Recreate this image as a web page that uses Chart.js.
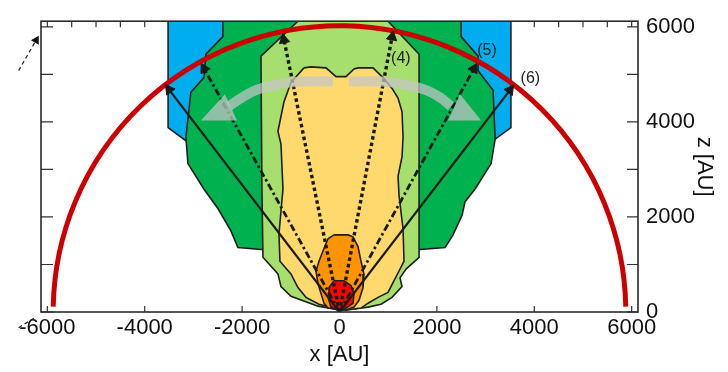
<!DOCTYPE html>
<html>
<head>
<meta charset="utf-8">
<script src="https://cdn.jsdelivr.net/npm/chart.js@4.4.1/dist/chart.umd.min.js"></script>
<style>
  html, body { margin: 0; padding: 0; background: #fff; }
</style>
</head>
<body>
<canvas id="chart" width="728" height="372"></canvas>
<script>
// axis ticks
const xTickValues = [-6000, -4000, -2000, 0, 2000, 4000, 6000];
const yTickValues = [0, 1000, 2000, 3000, 4000, 5000, 6000];

// contour outlines in AU, outermost first (x, z)
const blueX = [-3520, -3520, -3150, 3200, 3520, 3520];
const blueZ = [6120, 3880, 3600, 3640, 3880, 6120];

const greenX = [-2394, -2394, -2743, -2785, -3052, -3154, -3113, -2785, -2497, -2230, -2086, -1613,
                1654, 2168, 2332, 2517, 2579, 2785, 3113, 3196, 3154, 2846, 2846, 2497, 2497];
const greenZ = [6120, 5795, 5425, 4932, 4624, 3678, 3124, 2589, 2178, 1706, 1356, 1315,
                1315, 1356, 1623, 2034, 2322, 2589, 3124, 3637, 4665, 5076, 5384, 5795, 6120];

const lightGreenX = [-853, -1613, -1593, -1572, -1264, -1202, -997, -442, -113, 0,
                     134, 586, 853, 1079, 1284, 1243, 1367, 1634, 1634, 1634, 997];
const lightGreenZ = [6120, 5384, 2589, 1151, 801, 534, 329, 123, 62, 41,
                     41, 103, 164, 308, 534, 719, 904, 1151, 2589, 5425, 6120];

const yellowX = [-730, -586, -277, -72, 134, 298, 380, 688, 894, 1079, 1202, 1284, 1305, 1284,
                 1202, 1223, 1305, 1325, 1223, 1120, 997, 791, 586, 442, 134, -113, -421, -688,
                 -853, -997, -1223, -1243, -1161, -1202, -1264, -1141, -997];
const yellowZ = [5138, 5158, 5138, 4953, 4953, 5117, 5138, 5138, 4932, 4706, 4500, 4213, 3678, 3267,
                 2856, 2445, 1747, 1069, 863, 658, 411, 308, 185, 82, 41, 82, 164, 308,
                 514, 801, 1069, 1644, 2589, 3535, 3802, 4418, 4829];

const orangeX = [-113, 175, 277, 380, 442, 503, 483, 401, 298, 134, -236, -319, -380, -442, -483, -421, -319, -236];
const orangeZ = [1623, 1623, 1582, 1377, 1069, 801, 514, 247, 103, 41, 82, 185, 390, 596, 863, 1069, 1336, 1541];

const coreX = [-113, 92, 236, 298, 277, 134, 0, -175, -236, -216];
const coreZ = [658, 658, 555, 390, 185, 82, 20, 103, 308, 514];

// red circle
const circleRadius = 5880;
const circleEndZ = 110;

// arrows from the origin (tips)
const arrowEndX = [-3500, 3500, -2780, 2760, -1140, 1080];
const arrowEndZ = [4680, 4670, 5120, 5120, 5730, 5790];

const labelText = ['(4)', '(5)', '(6)'];
const labelX = [1260, 3030, 3920];
const labelZ = [5340, 5510, 4910];

// gray curved arrows
const grayLeftX = [-134, -791, -1305, -1716, -2024, -2271];
const grayLeftZ = [4850, 4850, 4780, 4670, 4500, 4330];
const grayRightX = [195, 853, 1367, 1778, 2086, 2291];
const grayRightZ = [4850, 4850, 4780, 4670, 4500, 4330];
const headLeftX = [-2846, -2353, -2106];
const headLeftZ = [4028, 4583, 4028];
const headRightX = [2908, 2476, 2230];
const headRightZ = [4028, 4583, 4028];

// small dashed arrows outside the frame
const outTopX = [-6590, -6230];
const outTopZ = [5080, 5720];
const outBotX = [-6590, -6260];
const outBotZ = [-330, -120];

const FONT = 'Liberation Sans, Arial, Helvetica, sans-serif';

function pts(xs, zs, close) {
    const p = xs.map((x, i) => ({ x: x, y: zs[i] }));
    if (close) p.push({ x: xs[0], y: zs[0] });
    return p;
}

function region(label, xs, zs, color, order) {
    return {
        label: label,
        data: pts(xs, zs, true),
        showLine: true,
        fill: 'shape',
        backgroundColor: color,
        borderColor: '#1e1e1e',
        borderWidth: 1.6,
        pointRadius: 0,
        order: order
    };
}

const datasets = [
    region('blue', blueX, blueZ, '#00AEEF', 20),
    region('green', greenX, greenZ, '#00B14F', 19),
    region('lightgreen', lightGreenX, lightGreenZ, '#A6DF6E', 18),
    region('yellow', yellowX, yellowZ, '#FFD96D', 17),
    region('orange', orangeX, orangeZ, '#FF9300', 16),
    region('core', coreX, coreZ, '#FF0000', 15)
];

const arrowDash = [[], [], [7, 3, 2.5, 3], [7, 3, 2.5, 3], [3.5, 3], [3.5, 3]];
const arrowWidth = [2.2, 2.2, 2.8, 2.8, 3.4, 3.4];
arrowEndX.forEach((ex, i) => {
    const ez = arrowEndZ[i];
    datasets.push({
        label: 'arrow' + i,
        data: [{ x: 0, y: 0 }, { x: ex, y: ez }],
        showLine: true,
        borderColor: '#1a1a1a',
        borderWidth: arrowWidth[i],
        borderDash: arrowDash[i],
        pointRadius: [0, 6],
        pointStyle: 'triangle',
        pointRotation: [0, Math.atan2(ex, ez) * 180 / Math.PI],
        pointBackgroundColor: '#1a1a1a',
        pointBorderColor: '#1a1a1a',
        pointBorderWidth: 1,
        order: 3
    });
});

const grayCol = 'rgba(198,198,198,0.72)';
[[grayLeftX, grayLeftZ], [grayRightX, grayRightZ]].forEach(([xs, zs]) => {
    datasets.push({
        data: pts(xs, zs, false),
        showLine: true,
        borderColor: grayCol,
        borderWidth: 10,
        borderCapStyle: 'butt',
        tension: 0.4,
        pointRadius: 0,
        order: 2
    });
});
[[headLeftX, headLeftZ], [headRightX, headRightZ]].forEach(([xs, zs]) => {
    datasets.push({
        data: pts(xs, zs, true),
        showLine: true,
        fill: 'shape',
        backgroundColor: grayCol,
        borderWidth: 0,
        pointRadius: 0,
        order: 2
    });
});

[[outTopX, outTopZ, 30], [outBotX, outBotZ, 180]].forEach(([xs, zs, rot]) => {
    datasets.push({
        data: pts(xs, zs, false),
        showLine: true,
        clip: false,
        borderColor: '#222',
        borderWidth: 1.2,
        borderDash: [4, 3],
        pointRadius: [0, 4],
        pointStyle: 'triangle',
        pointRotation: [0, rot],
        pointBackgroundColor: '#111',
        pointBorderColor: '#111',
        order: 1
    });
});

// red semicircle, drawn right after the inner core contour
const circlePlugin = {
    id: 'circle',
    afterDatasetDraw(chart, args) {
        if (chart.data.datasets[args.index].label !== 'core') return;
        const { ctx, chartArea: a, scales: { x, y } } = chart;
        const cx = x.getPixelForValue(0);
        const cy = y.getPixelForValue(0);
        const r = x.getPixelForValue(circleRadius) - cx;
        const d = Math.asin(circleEndZ / circleRadius);
        ctx.save();
        ctx.beginPath();
        ctx.rect(a.left, a.top, a.right - a.left, a.bottom - a.top);
        ctx.clip();
        ctx.beginPath();
        ctx.arc(cx, cy, r, Math.PI + d, 2 * Math.PI - d);
        ctx.strokeStyle = '#CC0000';
        ctx.lineWidth = 5;
        ctx.stroke();
        ctx.restore();
    }
};

const frameTicks = {
    id: 'frameTicks',
    beforeDatasetsDraw(chart) {
        const { ctx, chartArea: a, scales: { x, y } } = chart;
        ctx.save();
        ctx.strokeStyle = '#333';
        ctx.lineWidth = 1.2;
        ctx.beginPath();
        x.ticks.forEach(t => {
            const px = x.getPixelForValue(t.value);
            ctx.moveTo(px, a.bottom);
            ctx.lineTo(px, a.bottom - 6);
        });
        for (let v = -6000; v <= 6000; v += 500) {
            const px = x.getPixelForValue(v);
            ctx.moveTo(px, a.top);
            ctx.lineTo(px, a.top + 6);
        }
        y.ticks.forEach(t => {
            const py = y.getPixelForValue(t.value);
            ctx.moveTo(a.left, py);
            ctx.lineTo(a.left + 12, py);
            ctx.moveTo(a.right, py);
            ctx.lineTo(a.right - 11, py);
        });
        ctx.stroke();
        ctx.restore();
    },
    afterDatasetsDraw(chart) {
        const { ctx, chartArea: a, scales: { x, y } } = chart;
        ctx.save();
        ctx.fillStyle = '#222';
        ctx.font = '16px ' + FONT;
        ctx.textAlign = 'center';
        ctx.textBaseline = 'middle';
        labelText.forEach((t, i) => {
            ctx.fillText(t, x.getPixelForValue(labelX[i]), y.getPixelForValue(labelZ[i]));
        });
        ctx.strokeStyle = '#2a2a2a';
        ctx.lineWidth = 1.6;
        ctx.strokeRect(a.left, a.top, a.right - a.left, a.bottom - a.top);
        ctx.restore();
    }
};

new Chart(document.getElementById('chart'), {
    type: 'scatter',
    data: { datasets: datasets },
    options: {
        responsive: false,
        animation: false,
        events: [],
        layout: { padding: { left: 41, top: 14, right: 0, bottom: 0 } },
        plugins: { legend: { display: false }, tooltip: { enabled: false } },
        scales: {
            x: {
                type: 'linear',
                min: -6130,
                max: 6130,
                afterFit: s => { s.height = 60; },
                afterBuildTicks: s => { s.ticks = xTickValues.map(v => ({ value: v })); },
                grid: { display: false, drawTicks: false },
                border: { display: false },
                ticks: {
                    autoSkip: false,
                    maxRotation: 0,
                    padding: 3,
                    color: '#111',
                    font: { family: FONT, size: 22 },
                    callback: v => String(v)
                },
                title: {
                    display: true,
                    text: 'x [AU]',
                    color: '#111',
                    font: { family: FONT, size: 22 },
                    padding: { top: 0, bottom: 4 }
                }
            },
            y: {
                type: 'linear',
                position: 'right',
                min: 0,
                max: 6120,
                afterFit: s => { s.width = 90; },
                afterBuildTicks: s => { s.ticks = yTickValues.map(v => ({ value: v })); },
                grid: { display: false, drawTicks: false },
                border: { display: false },
                ticks: {
                    autoSkip: false,
                    padding: 8,
                    color: '#111',
                    font: { family: FONT, size: 22 },
                    callback: v => (v % 2000 === 0 ? String(v) : '')
                },
                title: {
                    display: true,
                    text: 'z [AU]',
                    color: '#111',
                    font: { family: FONT, size: 22 },
                    padding: { top: 11, bottom: 0 }
                }
            }
        }
    },
    plugins: [circlePlugin, frameTicks]
});
</script>
</body>
</html>
